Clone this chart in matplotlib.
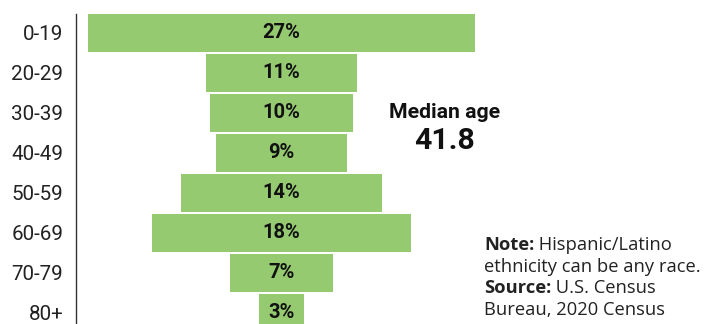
import matplotlib
matplotlib.use("Agg")
import matplotlib.pyplot as plt

# Share of population by age group (percent)
age_groups = ["0-19", "20-29", "30-39", "40-49", "50-59", "60-69", "70-79", "80+"]
shares = [27.3, 10.6, 10.1, 9.2, 14.1, 18.2, 7.3, 3.2]
median_age = 41.8

BAR_COLOR = "#95ca71"

fig = plt.figure(figsize=(7.21, 3.24), dpi=100)
ax = fig.add_axes([76 / 721, 0, 1 - 76 / 721, 1 - 14 / 324])

# Bars centred on zero so they form a symmetric pyramid
lefts = [-v / 2 for v in shares]
ypos = list(range(len(age_groups)))
ax.barh(ypos, shares, left=lefts, height=0.94, color=BAR_COLOR, linewidth=0)

for y, v in zip(ypos, shares):
    ax.text(0, y, f"{v:.0f}%", ha="center", va="center", fontsize=14.5,
            fontweight="bold", family="Roboto", color="#111111")

ax.set_xlim(-14.47, 30.95)
ax.set_ylim(7.275, -0.47)
ax.set_yticks(ypos)
ax.set_yticklabels(age_groups, family="Roboto", fontsize=14.9, color="#222222")
ax.tick_params(axis="y", length=0, pad=9)
ax.set_xticks([])
for side in ("top", "right", "bottom"):
    ax.spines[side].set_visible(False)
ax.spines["left"].set_color("#333333")
ax.spines["left"].set_linewidth(1.0)

# Median age callout
fig.text(445 / 721, 1 - 112 / 324, "Median age", ha="center", va="center",
         fontsize=15.3, fontweight="bold", family="Roboto", color="#111111")
fig.text(445 / 721, 1 - 141 / 324, f"{median_age}", ha="center", va="center",
         fontsize=21.8, fontweight="bold", family="Roboto", color="#111111")

# Note / source block, with bold lead-ins
note_x = 484 / 721
note_kw = dict(fontsize=13.2, family="Open Sans", color="#222222", va="baseline")
baselines = [250, 272, 293, 315]
t1 = fig.text(note_x, 1 - baselines[0] / 324, "Note:", fontweight="bold", **note_kw)
fig.text(note_x, 1 - baselines[1] / 324, "ethnicity can be any race.", **note_kw)
t3 = fig.text(note_x, 1 - baselines[2] / 324, "Source:", fontweight="bold", **note_kw)
fig.text(note_x, 1 - baselines[3] / 324, "Bureau, 2020 Census", **note_kw)

fig.canvas.draw()
renderer = fig.canvas.get_renderer()
for lead, rest, base in ((t1, " Hispanic/Latino", baselines[0]),
                         (t3, " U.S. Census", baselines[2])):
    bb = lead.get_window_extent(renderer)
    fig.text(bb.x1 / fig.bbox.width, 1 - base / 324, rest, **note_kw)

fig.savefig("out.png", dpi=100)
